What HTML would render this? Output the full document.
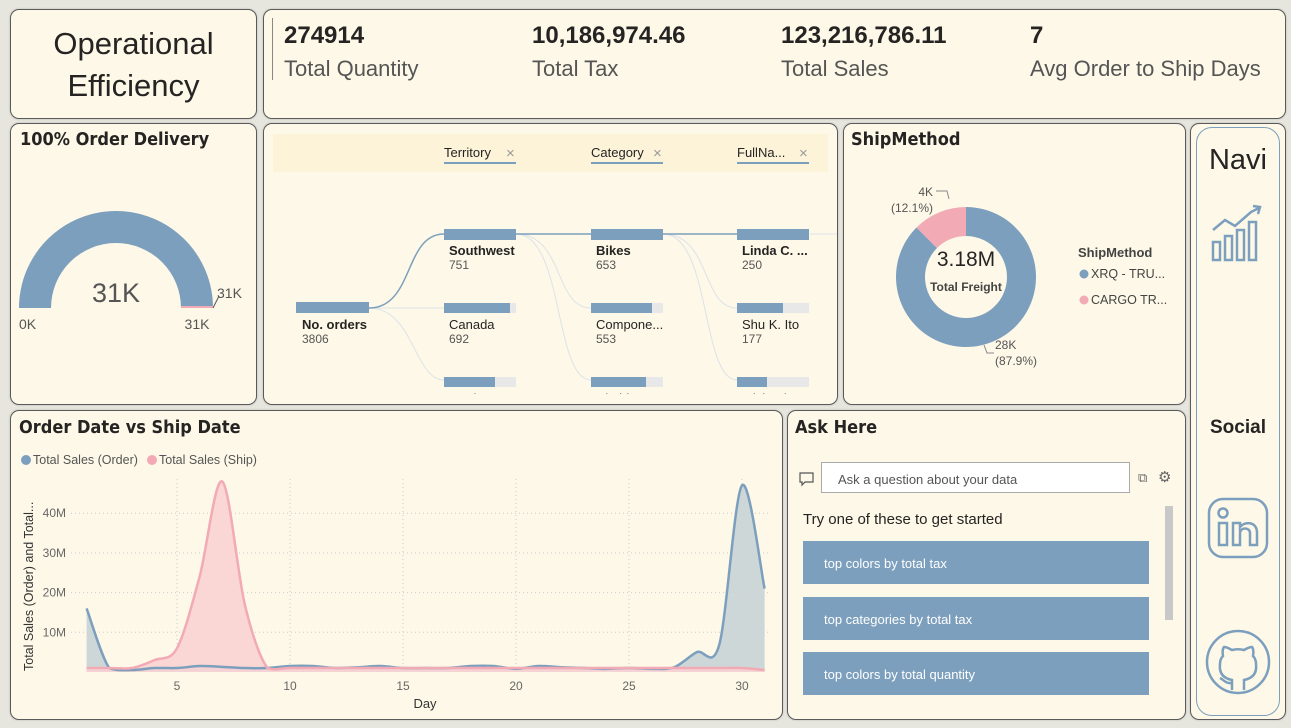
<!DOCTYPE html>
<html><head><meta charset="utf-8"><style>
*{box-sizing:border-box;margin:0;padding:0}
body{width:1291px;height:727px;background:#e6e6df;font-family:"Liberation Sans","DejaVu Sans",sans-serif;position:relative;overflow:hidden;color:#252423}
.p{position:absolute;background:#fdf8e7;border:1px solid #5a5a5a;border-radius:9px;box-shadow:0 0 2px rgba(0,0,0,.2)}
.t{position:absolute;font-weight:bold;font-size:18px;font-family:"DejaVu Sans Condensed","Liberation Sans",sans-serif;color:#252423}
.abs{position:absolute}
.kv{position:absolute;font-size:24px;font-weight:bold;top:12px}
.kl{position:absolute;font-size:22px;color:#555;top:46px}
.btn{position:absolute;left:803px;width:346px;height:43px;background:#7c9fbd;color:#fff;font-size:13px;padding:15px 0 0 21px}
</style></head><body>
<div class="p" style="left:10px;top:9px;width:247px;height:110px">
 <div class="abs" style="left:0;width:245px;top:13px;text-align:center;font-size:31px;line-height:42px;color:#252423">Operational<br>Efficiency</div>
</div>
<div class="p" style="left:263px;top:9px;width:1023px;height:110px">
 <div class="abs" style="left:8px;top:8px;width:1px;height:62px;background:#888"></div>
 <div class="kv" style="left:20px">274914</div>
 <div class="kl" style="left:20px">Total Quantity</div>
 <div class="kv" style="left:268px">10,186,974.46</div>
 <div class="kl" style="left:268px">Total Tax</div>
 <div class="kv" style="left:517px">123,216,786.11</div>
 <div class="kl" style="left:517px">Total Sales</div>
 <div class="kv" style="left:766px">7</div>
 <div class="kl" style="left:766px">Avg Order to Ship Days</div>
</div>

<div class="p" style="left:10px;top:123px;width:247px;height:282px">
 <div class="t" style="left:9px;top:5px">100% Order Delivery</div>
 <svg class="abs" style="left:0;top:0" width="247" height="282">
  <path d="M8,184 A97,97 0 0 1 202,184 L170,184 A65,65 0 0 0 40,184 Z" fill="#7c9fbd"/>
  <path d="M170,182 L202,182 L202,184 L170,184Z" fill="#f2aab5"/>
  <line x1="202" y1="184" x2="208" y2="172" stroke="#555"/>
  <text x="105" y="178" text-anchor="middle" font-size="27" fill="#555">31K</text>
  <text x="8" y="205" font-size="14" fill="#555">0K</text>
  <text x="186" y="205" text-anchor="middle" font-size="14" fill="#555">31K</text>
  <text x="206" y="174" font-size="14" fill="#555">31K</text>
 </svg>
</div>

<div class="p" style="left:263px;top:123px;width:575px;height:282px;overflow:hidden">
 <div class="abs" style="left:9px;top:10px;width:555px;height:38px;background:#fdf3d8"></div>
 <svg class="abs" style="left:0;top:0" width="575" height="282" font-size="13" fill="#252423">
  <defs><clipPath id="cl"><rect x="0" y="0" width="575" height="270"/></clipPath></defs>
  <g><text x="180" y="33">Territory</text><text x="242" y="34" fill="#999" font-size="15">×</text><rect x="180" y="38" width="72" height="2" fill="#7c9fbd"/></g>
  <g><text x="327" y="33">Category</text><text x="389" y="34" fill="#999" font-size="15">×</text><rect x="327" y="38" width="72" height="2" fill="#7c9fbd"/></g>
  <g><text x="473" y="33">FullNa...</text><text x="535" y="34" fill="#999" font-size="15">×</text><rect x="473" y="38" width="72" height="2" fill="#7c9fbd"/></g>
  <g fill="none" stroke="#dde3ea" stroke-width="1">
   <path d="M105,184 C150,184 150,256 180,256"/><path d="M105,184 L180,184"/>
   <path d="M252,110 C300,110 290,256 327,256"/><path d="M252,110 C300,110 290,184 327,184"/>
   <path d="M399,110 C447,110 437,256 473,256"/><path d="M399,110 C447,110 437,184 473,184"/>
   <path d="M546,110 L575,110"/>
  </g>
  <g fill="none" stroke="#7c9fbd" stroke-width="1.5"><path d="M105,184 C150,184 140,110 180,110"/><path d="M252,110 L327,110"/><path d="M399,110 L473,110"/></g>
  <g><rect x="32" y="178" width="73" height="11" fill="#7c9fbd"/><text x="38" y="205" font-weight="bold">No. orders</text><text x="38" y="219" font-size="12" fill="#555">3806</text></g>
  <g><rect x="180" y="105" width="72" height="11" fill="#7c9fbd"/><text x="185" y="131" font-weight="bold">Southwest</text><text x="185" y="145" font-size="12" fill="#555">751</text></g>
  <g><rect x="180" y="179" width="72" height="10" fill="#e8e8e8"/><rect x="180" y="179" width="66" height="10" fill="#7c9fbd"/><text x="185" y="205">Canada</text><text x="185" y="219" font-size="12" fill="#555">692</text></g>
  <g><rect x="180" y="253" width="72" height="10" fill="#e8e8e8"/><rect x="180" y="253" width="51" height="10" fill="#7c9fbd"/><text x="185" y="279" clip-path="url(#cl)">Northwest</text></g>
  <g><rect x="327" y="105" width="72" height="11" fill="#7c9fbd"/><text x="332" y="131" font-weight="bold">Bikes</text><text x="332" y="145" font-size="12" fill="#555">653</text></g>
  <g><rect x="327" y="179" width="72" height="10" fill="#e8e8e8"/><rect x="327" y="179" width="61" height="10" fill="#7c9fbd"/><text x="332" y="205">Compone...</text><text x="332" y="219" font-size="12" fill="#555">553</text></g>
  <g><rect x="327" y="253" width="72" height="10" fill="#e8e8e8"/><rect x="327" y="253" width="55" height="10" fill="#7c9fbd"/><text x="332" y="279" clip-path="url(#cl)">Clothing</text></g>
  <g><rect x="473" y="105" width="72" height="11" fill="#7c9fbd"/><text x="478" y="131" font-weight="bold">Linda C. ...</text><text x="478" y="145" font-size="12" fill="#555">250</text></g>
  <g><rect x="473" y="179" width="72" height="10" fill="#e8e8e8"/><rect x="473" y="179" width="46" height="10" fill="#7c9fbd"/><text x="478" y="205">Shu K. Ito</text><text x="478" y="219" font-size="12" fill="#555">177</text></g>
  <g><rect x="473" y="253" width="72" height="10" fill="#e8e8e8"/><rect x="473" y="253" width="30" height="10" fill="#7c9fbd"/><text x="478" y="279" clip-path="url(#cl)">Michael S.</text></g>
 </svg>
</div>

<div class="p" style="left:843px;top:123px;width:343px;height:282px">
 <div class="t" style="left:7px;top:5px">ShipMethod</div>
 <svg class="abs" id="donut" style="left:0;top:0" width="343" height="282"></svg>
</div>

<div class="p" style="left:1190px;top:123px;width:96px;height:597px">
 <div class="abs" style="left:5px;top:3px;width:84px;height:589px;border:1px solid #7c9fbd;border-radius:16px"></div>
 <div class="abs" style="left:0;width:94px;top:20px;text-align:center;font-size:29px">Navi</div>
 <svg class="abs" style="left:18px;top:78px" width="60" height="62" fill="none" stroke="#7c9fbd" stroke-width="2.5">
  <polyline points="4,28 16,18 26,24 42,10 50,6"/><polyline points="44,4 51,5 49,12"/>
  <rect x="4" y="40" width="7" height="18"/><rect x="16" y="34" width="7" height="24"/><rect x="28" y="28" width="7" height="30"/><rect x="40" y="20" width="7" height="38"/>
 </svg>
 <div class="abs" style="left:0;width:94px;top:293px;text-align:center;font-size:19px;font-weight:bold">Social</div>
 <svg class="abs" style="left:16px;top:373px" width="62" height="62" fill="none" stroke="#7c9fbd" stroke-width="2.5">
  <rect x="2" y="2" width="58" height="58" rx="14"/><rect x="12" y="26" width="8" height="22"/><circle cx="16" cy="16" r="4.5"/><path d="M26,48 V26 H33 V30 C36,25 50,23 50,36 V48 H43 V36 C43,30 33,30 33,36 V48 Z"/>
 </svg>
 <svg class="abs" style="left:13px;top:504px" width="68" height="68" fill="none" stroke="#7c9fbd" stroke-width="2.5">
  <circle cx="34" cy="34" r="31"/><path d="M28,62 V52 C18,50 15,44 16,36 C16,32 17,30 19,28 C18,24 19,20 20,19 C23,19 26,21 28,22 C32,21 36,21 40,22 C42,21 45,19 48,19 C49,20 50,24 49,28 C51,30 52,32 52,36 C53,44 50,50 40,52 V62"/><path d="M28,55 C22,56 20,52 16,50"/>
 </svg>
</div>

<div class="p" style="left:10px;top:410px;width:773px;height:310px">
 <div class="t" style="left:8px;top:6px">Order Date vs Ship Date</div>
 <svg class="abs" id="area" style="left:-10px;top:-410px" width="790" height="727"></svg>
</div>

<div class="p" style="left:787px;top:410px;width:399px;height:310px">
 <div class="t" style="left:7px;top:6px">Ask Here</div>
</div>
<svg class="abs" style="left:798px;top:471px" width="18" height="16"><path d="M2,2 H15 V11 H7 L4,14 V11 H2 Z" fill="none" stroke="#555" stroke-width="1.2"/></svg>
<div class="abs" style="left:821px;top:462px;width:309px;height:31px;background:#fff;border:1px solid #aaa;font-size:13px;color:#555;padding:9px 0 0 16px">Ask a question about your data</div>
<div class="abs" style="left:1138px;top:470px;font-size:13px;color:#666">⧉</div>
<div class="abs" style="left:1158px;top:468px;font-size:15px;color:#666">⚙</div>
<div class="abs" style="left:803px;top:511px;font-size:15px;color:#252423">Try one of these to get started</div>
<div class="abs" style="left:1165px;top:506px;width:8px;height:114px;background:#c8c8c8"></div>
<div class="btn" style="top:541px">top colors by total tax</div>
<div class="btn" style="top:597px">top categories by total tax</div>
<div class="btn" style="top:652px">top colors by total quantity</div>

<script>
// donut data
const shipMethods=["XRQ - TRU...","CARGO TR..."];
const freight=[28,4];
const freightPct=["87.9%","12.1%"];
(function(){
 const s=document.getElementById('donut');
 const cx=122,cy=153,R=70,r=41,cols=['#7c9fbd','#f2aab5'];
 const tot=freight.reduce((a,b)=>a+b,0);
 let h='';
 const pinkA=freight[1]/tot*2*Math.PI;
 function pt(a,rad){return [cx+rad*Math.sin(a),cy-rad*Math.cos(a)];}
 function arc(a0,a1,col,name){const large=(a1-a0)>Math.PI?1:0;const [x0,y0]=pt(a0,R),[x1,y1]=pt(a1,R),[x2,y2]=pt(a1,r),[x3,y3]=pt(a0,r);
  return `<path d="M${x0},${y0} A${R},${R} 0 ${large} 1 ${x1},${y1} L${x2},${y2} A${r},${r} 0 ${large} 0 ${x3},${y3} Z" fill="${col}"/>`;}
 h+=arc(0,2*Math.PI-pinkA,cols[0],'slice-xrq');
 h+=arc(2*Math.PI-pinkA,2*Math.PI,cols[1],'slice-cargo');
 h+=`<text x="${cx}" y="${cy-11}" text-anchor="middle" font-size="21" fill="#252423">3.18M</text>`;
 h+=`<text x="${cx}" y="${cy+14}" text-anchor="middle" font-size="12" font-weight="bold" fill="#444">Total Freight</text>`;
 h+=`<text x="89" y="72" text-anchor="end" font-size="12" fill="#555">${freight[1]}K</text><text x="89" y="88" text-anchor="end" font-size="12" fill="#555">(${freightPct[1]})</text><polyline points="92,67 103,67 105,75" fill="none" stroke="#888"/>`;
 h+=`<text x="151" y="225" font-size="12" fill="#555">${freight[0]}K</text><text x="151" y="241" font-size="12" fill="#555">(${freightPct[0]})</text><polyline points="150,229 143,229 140,221" fill="none" stroke="#888"/>`;
 h+=`<text x="234" y="133" font-size="13" font-weight="bold" fill="#444">ShipMethod</text>`;
 shipMethods.forEach((m,i)=>{h+=`<g><circle cx="240" cy="${150+i*26}" r="4.5" fill="${cols[i]}"/><text x="247" y="${154+i*26}" font-size="12.5" fill="#444">${m}</text></g>`;});
 s.innerHTML=h;
})();

// area chart data (millions)
const days=[1,2,3,4,5,6,7,8,9,10,11,12,13,14,15,16,17,18,19,20,21,22,23,24,25,26,27,28,29,30,31];
const salesOrder=[16,1,0.5,1,1,1.5,1.3,1,1,1.5,1.5,1,1.2,1.5,1,1,1,1.5,1.5,0.8,1.5,1.2,1,0.8,1,0.8,1.2,5,7,47,21];
const salesShip=[1,1,1,3,6,24,48,17,1,1,1,1,1,1,1,1,1,1,1,1,1,1,1,1,1,1,1,1,1,1,0.5];
const yTicks=[10,20,30,40];
const xTicks=[5,10,15,20,25,30];
(function(){
 const s=document.getElementById('area');
 const X=d=>85.6+(d-1)*22.6, Y=v=>671-v*3.97;
 function path(arr){const p=days.map((d,i)=>[X(d),Y(arr[i])]);let d=`M${p[0][0]},${p[0][1]}`;
  for(let i=0;i<p.length-1;i++){const p0=p[Math.max(i-1,0)],p1=p[i],p2=p[i+1],p3=p[Math.min(i+2,p.length-1)];const t=0.16;
   let c1y=p1[1]+(p2[1]-p0[1])*t,c2y=p2[1]-(p3[1]-p1[1])*t;c1y=Math.min(c1y,670);c2y=Math.min(c2y,670);
   d+=` C${p1[0]+(p2[0]-p0[0])*t},${c1y} ${p2[0]-(p3[0]-p1[0])*t},${c2y} ${p2[0]},${p2[1]}`;}
  return d;}
 let h='';
 h+=`<g font-size="12.5" fill="#555"><circle cx="25" cy="459" r="5" fill="#7c9fbd"/><text x="32" y="463">Total Sales (Order)</text><circle cx="151" cy="459" r="5" fill="#f2aab5"/><text x="158" y="463">Total Sales (Ship)</text></g>`;
 yTicks.forEach(v=>{h+=`<line x1="70" x2="770" y1="${Y(v)}" y2="${Y(v)}" stroke="#ccc" stroke-dasharray="1,3"/><text x="65" y="${Y(v)+4}" text-anchor="end" font-size="12" fill="#666">${v}M</text>`;});
 xTicks.forEach(v=>{h+=`<line x1="${X(v)}" x2="${X(v)}" y1="478" y2="671" stroke="#ccc" stroke-dasharray="1,3"/><text x="${X(v)}" y="689" text-anchor="middle" font-size="12" fill="#666">${v}</text>`;});
 h+=`<text x="424" y="707" text-anchor="middle" font-size="13" fill="#333">Day</text>`;
 h+=`<text transform="translate(32,670) rotate(-90)" font-size="12.5" fill="#333">Total Sales (Order) and Total...</text>`;
 const po=path(salesOrder),ps=path(salesShip);
 h+=`<path d="${po} L${X(31)},671 L${X(1)},671Z" fill="#c9d3d6" opacity="0.9"/>`;
 h+=`<path d="${ps} L${X(31)},671 L${X(1)},671Z" fill="#f9d2d3" opacity="0.9"/>`;
 h+=`<path d="${po}" fill="none" stroke="#7c9fbd" stroke-width="2.5"/>`;
 h+=`<path d="${ps}" fill="none" stroke="#f2aab5" stroke-width="2.5"/>`;
 s.innerHTML=h;
})();
</script>
</body></html>
